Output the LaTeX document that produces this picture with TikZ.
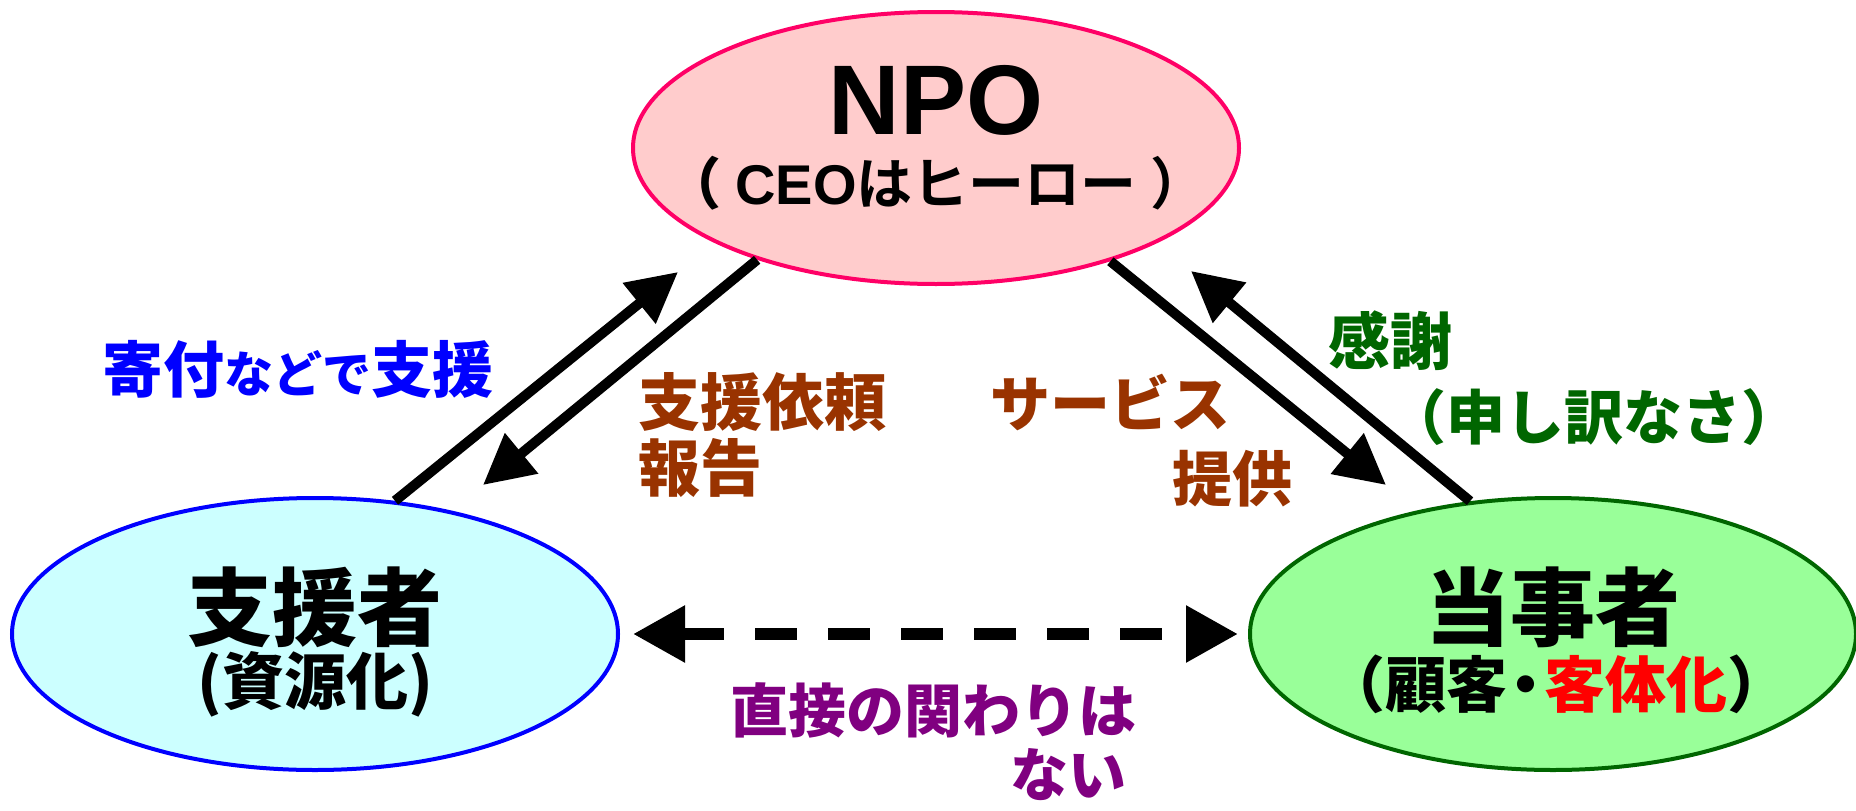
\documentclass[tikz,border=0pt]{standalone}
\usepackage{fontspec}
\usetikzlibrary{arrows.meta,shapes.geometric}
\newfontfamily\jp{Noto Sans CJK JP Black}
\newfontfamily\lat{Liberation Sans}
\newcommand\jfs[1]{\fontsize{#1}{#1}\selectfont}
\definecolor{npoE}{HTML}{FF0066}
\definecolor{npoF}{HTML}{FFCCCC}
\definecolor{supE}{HTML}{0000FF}
\definecolor{supF}{HTML}{CCFFFF}
\definecolor{cliE}{HTML}{006600}
\definecolor{cliF}{HTML}{99FF99}
\definecolor{brn}{HTML}{993300}
\definecolor{grn}{HTML}{006600}
\definecolor{prp}{HTML}{800080}
\definecolor{blu}{HTML}{0000FF}
\definecolor{rd}{HTML}{FF0000}
\begin{document}
\begin{tikzpicture}[x=1pt,y=-1pt,
  ell/.style={ellipse,minimum width=606pt,minimum height=272pt,inner sep=0pt,line width=4pt},
  lbl/.style={inner sep=0pt,font=\jp},
  arr/.style={line width=10pt,-{Triangle[length=50pt,width=50pt]}},
  darr/.style={line width=12pt,dash pattern=on 42pt off 31pt,
    {Triangle[length=52pt,width=54pt]}-{Triangle[length=52pt,width=54pt]}}]
\useasboundingbox (0,0) rectangle (1856,811);
% ellipses
\node[ell,draw=npoE,fill=npoF] (npo) at (936,148) {};
\node[ell,draw=supE,fill=supF] (sup) at (315,634) {};
\node[ell,draw=cliE,fill=cliF] (cli) at (1553,634) {};
% ellipse labels
\node[lbl] (npoT) at (936,100) {\lat\bfseries\jfs{99}NPO};
\node[lbl] (npoS) at (936,183) {\jfs{56}（\hspace{14pt}\lat\bfseries CEO\jp はヒーロー\hspace{14pt}）};
\node[lbl] (supT) at (315,607) {\jfs{85}支援者};
\node[lbl] (supS) at (315,684) {\jfs{62}(資源化)};
\node[lbl] (cliT) at (1553,607) {\jfs{85}当事者};
\node[lbl] (cliS) at (1556,684) {\jfs{61}（顧客\hspace{-12pt}・\hspace{-12pt}\textcolor{rd}{客体化}）};
% connectors
\coordinate (tA) at (678,272);
\coordinate (tB) at (483,485);
\coordinate (tC) at (1386,485);
\coordinate (tD) at (1191,271);
\draw[arr] (sup.59) -- (tA);
\draw[arr] (npo.212) -- (tB);
\draw[arr] (npo.327) -- (tC);
\draw[arr] (cli.122) -- (tD);
\draw[darr,shorten <=13pt,shorten >=10pt] (sup.east) -- (cli.west);
% connector labels
\node[lbl,text=blu] (don) at (298,369) {\jfs{61}寄付\jfs{49}などで\jfs{61}支援};
\node[lbl,text=brn,anchor=west] (req) at (638,402) {\jfs{62}支援依頼};
\node[lbl,text=brn,anchor=west] (rep) at (638,468) {\jfs{62}報告};
\node[lbl,text=brn,anchor=west] (svc) at (990,402) {\jfs{60}サービス};
\node[lbl,text=brn,anchor=west] (prv) at (1172,479) {\jfs{60}提供};
\node[lbl,text=grn,anchor=west] (thx) at (1328,341) {\jfs{62}感謝};
\node[lbl,text=grn] (sry) at (1594,417) {\jfs{59}（申し訳なさ）};
\node[lbl,text=prp] (nod1) at (933,710) {\jfs{58}直接の関わりは};
\node[lbl,text=prp] (nod2) at (1068,775) {\jfs{58}ない};
\end{tikzpicture}
\end{document}
